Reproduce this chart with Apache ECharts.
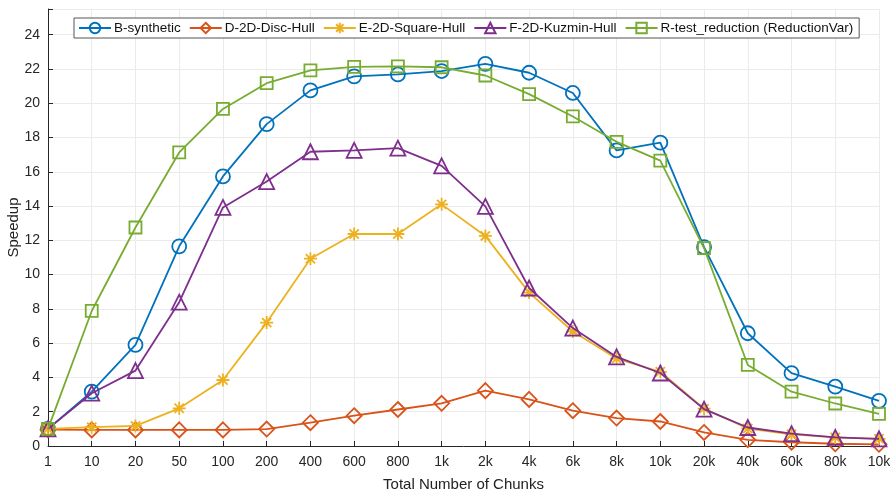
<!DOCTYPE html>
<html><head><meta charset="utf-8">
<script src="https://cdn.jsdelivr.net/npm/echarts@6/dist/echarts.min.js"></script>
<style>html,body{margin:0;padding:0;background:#fff}#c{width:896px;height:492px}</style>
</head><body><div id="c"></div>
<script>
const categories = ['1','10','20','50','100','200','400','600','800','1k','2k','4k','6k','8k','10k','20k','40k','60k','80k','10k'];
const bSynthetic = [1.0,3.17,5.9,11.65,15.73,18.78,20.75,21.57,21.68,21.88,22.3,21.78,20.6,17.25,17.7,11.6,6.58,4.25,3.46,2.63];
const dDiscHull = [0.95,0.94,0.94,0.94,0.94,0.99,1.36,1.77,2.13,2.49,3.23,2.72,2.06,1.63,1.43,0.79,0.36,0.22,0.13,0.1];
const eSquareHull = [1.0,1.1,1.17,2.2,3.85,7.2,10.93,12.37,12.37,14.1,12.26,8.95,6.68,5.1,4.33,2.18,1.02,0.68,0.5,0.42];
const fKuzminHull = [1.0,3.08,4.4,8.39,13.92,15.43,17.17,17.25,17.38,16.35,13.98,9.22,6.88,5.2,4.26,2.15,1.08,0.72,0.5,0.42];
const rTestReduction = [1.0,7.88,12.75,17.13,19.67,21.17,21.92,22.12,22.15,22.1,21.62,20.53,19.23,17.75,16.65,11.55,4.73,3.17,2.48,1.87];
const seriesNames = ['B-synthetic','D-2D-Disc-Hull','E-2D-Square-Hull','F-2D-Kuzmin-Hull','R-test_reduction (ReductionVar)'];
const yTicks = [0,2,4,6,8,10,12,14,16,18,20,22,24];

const colors = ['#0072BD','#D95319','#EDB120','#7E2F8E','#77AC30'];
const star = 'path://M0,-10L0,10M-10,0L10,0M-7.07,-7.07L7.07,7.07M-7.07,7.07L7.07,-7.07';
const symbols = ['circle','diamond',star,'triangle','rect'];
const sizes = [14,15,13,15,12];
const datas = [bSynthetic,dDiscHull,eSquareHull,fKuzminHull,rTestReduction];
const FONT = 'Liberation Sans, Arial, sans-serif';

const chart = echarts.init(document.getElementById('c'));
chart.setOption({
  animation:false,
  color: colors,
  grid:{left:48,right:17,top:9,bottom:46,containLabel:false,outerBoundsMode:'none'},
  legend:{
    left:74, top:18, orient:'horizontal',
    backgroundColor:'#fff', borderColor:'#555', borderWidth:1,
    padding:[3,6,3,4], itemGap:8, itemWidth:32, itemHeight:13,
    textStyle:{fontFamily:FONT,fontSize:13.5,color:'#111',padding:[0,0,0,-2]},
    data: seriesNames
  },
  xAxis:{
    type:'category', data:categories, boundaryGap:false,
    name:'Total Number of Chunks', nameLocation:'middle', nameGap:31, nameMoveOverlap:false,
    nameTextStyle:{fontFamily:FONT,fontSize:15,color:'#222'},
    axisLine:{lineStyle:{color:'#262626',width:1}},
    axisTick:{inside:true,length:5,alignWithLabel:true,lineStyle:{color:'#262626'}},
    axisLabel:{fontFamily:FONT,fontSize:14,color:'#262626',margin:9,interval:0},
    splitLine:{show:true,lineStyle:{color:'#ebebeb',width:1}}
  },
  yAxis:{
    type:'value', min:0, max:25.5, interval:2,
    name:'Speedup', nameLocation:'middle', nameGap:27, nameRotate:90, nameMoveOverlap:false,
    nameTextStyle:{fontFamily:FONT,fontSize:15,color:'#222'},
    axisLine:{show:true,lineStyle:{color:'#262626',width:1}},
    axisTick:{show:true,inside:true,length:5,lineStyle:{color:'#262626'}},
    axisLabel:{fontFamily:FONT,fontSize:14,color:'#262626',margin:8,
      formatter:v=> yTicks.indexOf(v)>=0 ? String(v) : ''},
    splitLine:{show:true,lineStyle:{color:'#ebebeb',width:1}}
  },
  series: seriesNames.map((n,i)=>({
    name:n, type:'line', data:datas[i],
    symbol:symbols[i], symbolSize:sizes[i], showAllSymbol:true,
    lineStyle:{color:colors[i],width:1.8},
    itemStyle:{color:'rgba(255,255,255,0)',borderColor:colors[i],borderWidth:1.8},
    z: 2+i
  }))
});
</script></body></html>
